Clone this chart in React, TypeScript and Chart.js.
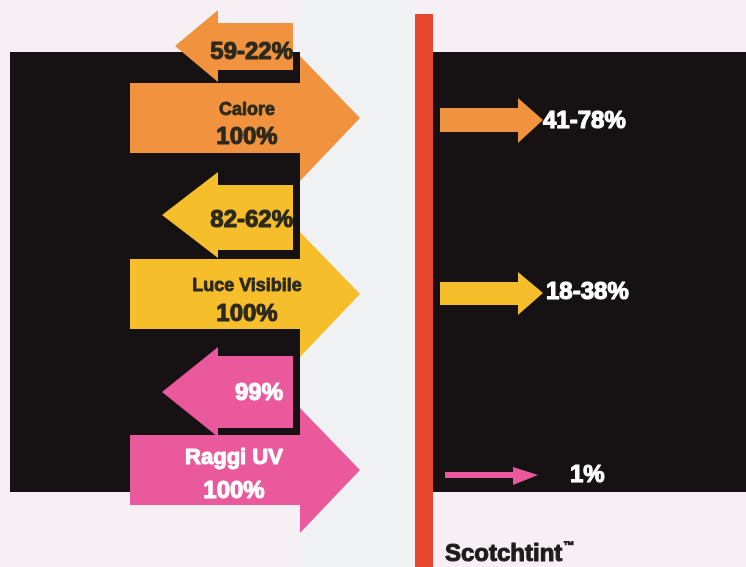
import React, { useEffect, useRef } from "react";
import { Chart, registerables } from "chart.js";

Chart.register(...registerables);

// ---------- data ----------
const categories = ["Calore", "Luce Visibile", "Raggi UV"];
const incidentValues = [100, 100, 100];
const incidentLabels = ["100%", "100%", "100%"];
const reflectedLabels = ["59-22%", "82-62%", "99%"];
const transmittedLabels = ["41-78%", "18-38%", "1%"];
const filmLabel = "Scotchtint";

// ---------- style / layout ----------
const W = 746;
const H = 567;
const ORIGIN_PX = 130; // pixel of value 0
const PX_PER_UNIT = 2.3; // incident arrow: 100% -> 230px
const ROW0_PX = 118;
const ROW_STEP_PX = 176;

const rowColors = ["#f0923e", "#f6be2a", "#e9599b"];
const rowTextColors = ["#2c2a1e", "#2c2a1e", "#ffffff"];
const FONT = "'Liberation Sans', Arial, sans-serif";

const reflectedShapes = [
  { bodyTop: -95, bodyBot: -48, headTop: -108, headBot: -36, tipY: -72, tipDx: 45 },
  { bodyTop: -109, bodyBot: -44, headTop: -122, headBot: -36, tipY: -79, tipDx: 32 },
  { bodyTop: -114, bodyBot: -42, headTop: -123, headBot: -33, tipY: -78, tipDx: 32 },
];
const transmittedShapes = [
  { start: 440, base: 518, tip: 543, bodyTop: -10, bodyBot: 14, headTop: -20, headBot: 25, tipY: 2 },
  { start: 440, base: 518, tip: 543, bodyTop: -12, bodyBot: 11, headTop: -22, headBot: 21, tipY: -1 },
  { start: 445, base: 513, tip: 538, bodyTop: 2, bodyBot: 8, headTop: -3, headBot: 15, tipY: 5 },
];
const incidentText = [
  { cx: 247, nameDy: -8, nameSize: 18, valDy: 19, valSize: 24 },
  { cx: 247, nameDy: -8, nameSize: 18, valDy: 20, valSize: 24 },
  { cx: 234, nameDy: -12, nameSize: 22, valDy: 21, valSize: 24 },
];
const reflectedText = [
  { right: 293, dy: -66 },
  { right: 293, dy: -74 },
  { right: 283, dy: -77 },
];
const transmittedText = [
  { left: 543, dy: 3 },
  { left: 546, dy: -2 },
  { left: 570, dy: 5 },
];

function poly(ctx: CanvasRenderingContext2D, pts: number[][], color: string) {
  ctx.beginPath();
  ctx.moveTo(pts[0][0], pts[0][1]);
  for (let i = 1; i < pts.length; i++) ctx.lineTo(pts[i][0], pts[i][1]);
  ctx.closePath();
  ctx.fillStyle = color;
  ctx.fill();
}

function text(
  ctx: CanvasRenderingContext2D,
  s: string,
  x: number,
  y: number,
  size: number,
  color: string,
  align: CanvasTextAlign
) {
  ctx.font = `bold ${size}px ${FONT}`;
  ctx.fillStyle = color;
  ctx.strokeStyle = color;
  ctx.lineWidth = size > 20 ? 1.1 : 0.8;
  ctx.lineJoin = "round";
  ctx.textAlign = align;
  ctx.textBaseline = "middle";
  ctx.fillText(s, x, y);
  ctx.strokeText(s, x, y);
}

const infographicPlugin = {
  id: "infographic",
  beforeDraw(chart: any) {
    const ctx: CanvasRenderingContext2D = chart.ctx;
    ctx.save();
    ctx.fillStyle = "#f6eff4";
    ctx.fillRect(0, 0, W, H);
    ctx.fillStyle = "#eff1f3";
    ctx.fillRect(300, 0, 115, H);
    // panels
    ctx.fillStyle = "#161213";
    ctx.fillRect(10, 52, 290, 440);
    ctx.fillRect(433, 52, W - 433, 440);
    // film line
    ctx.fillStyle = "#e4472d";
    ctx.fillRect(415, 14, 18, H - 14);
    ctx.restore();
  },
  afterDatasetsDraw(chart: any) {
    const ctx: CanvasRenderingContext2D = chart.ctx;
    const xs = chart.scales.x;
    const ys = chart.scales.y;
    ctx.save();
    categories.forEach((cat, i) => {
      const cy = ys.getPixelForValue(i);
      const x0 = xs.getPixelForValue(0);
      const tip = xs.getPixelForValue(incidentValues[i]);
      const base = tip - 60;
      const color = rowColors[i];
      // reflected arrow (points left)
      const r = reflectedShapes[i];
      const rRight = base - 7;
      const rBase = x0 + 88;
      const rTip = x0 + r.tipDx;
      poly(
        ctx,
        [
          [rRight, cy + r.bodyTop],
          [rBase, cy + r.bodyTop],
          [rBase, cy + r.headTop],
          [rTip, cy + r.tipY],
          [rBase, cy + r.headBot],
          [rBase, cy + r.bodyBot],
          [rRight, cy + r.bodyBot],
        ],
        color
      );
      // incident arrow
      poly(
        ctx,
        [
          [x0, cy - 35],
          [base, cy - 35],
          [base, cy - 62],
          [tip, cy],
          [base, cy + 63],
          [base, cy + 35],
          [x0, cy + 35],
        ],
        color
      );
      // transmitted arrow
      const t = transmittedShapes[i];
      poly(
        ctx,
        [
          [t.start, cy + t.bodyTop],
          [t.base, cy + t.bodyTop],
          [t.base, cy + t.headTop],
          [t.tip, cy + t.tipY],
          [t.base, cy + t.headBot],
          [t.base, cy + t.bodyBot],
          [t.start, cy + t.bodyBot],
        ],
        color
      );
      // texts
      const it = incidentText[i];
      text(ctx, cat, it.cx, cy + it.nameDy, it.nameSize, rowTextColors[i], "center");
      text(ctx, incidentLabels[i], it.cx, cy + it.valDy, it.valSize, rowTextColors[i], "center");
      const rt = reflectedText[i];
      text(ctx, reflectedLabels[i], rt.right, cy + rt.dy, 24, rowTextColors[i], "right");
      const tt = transmittedText[i];
      text(ctx, transmittedLabels[i], tt.left, cy + tt.dy, 24, "#ffffff", "left");
    });
    // film label
    text(ctx, filmLabel, 445, 554, 24, "#1e1c1c", "left");
    ctx.font = `bold 24px ${FONT}`;
    const w = ctx.measureText(filmLabel).width;
    text(ctx, "™", 446 + w, 546, 11, "#1e1c1c", "left");
    ctx.restore();
  },
};

export default function App() {
  const ref = useRef<HTMLCanvasElement | null>(null);
  useEffect(() => {
    if (!ref.current) return;
    const xMin = -ORIGIN_PX / PX_PER_UNIT;
    const xMax = (W - ORIGIN_PX) / PX_PER_UNIT;
    const yMin = -ROW0_PX / ROW_STEP_PX;
    const yMax = yMin + H / ROW_STEP_PX;
    const chart = new Chart(ref.current, {
      type: "scatter",
      data: {
        datasets: [
          {
            label: "Incidente",
            data: incidentValues.map((v, i) => ({ x: v, y: i })),
            pointRadius: 0,
            showLine: false,
          },
        ],
      },
      options: {
        responsive: false,
        animation: false,
        events: [],
        layout: { padding: 0 },
        plugins: { legend: { display: false }, tooltip: { enabled: false } },
        scales: {
          x: { type: "linear", min: xMin, max: xMax, display: false },
          y: { type: "linear", min: yMin, max: yMax, reverse: true, display: false },
        },
      },
      plugins: [infographicPlugin],
    });
    return () => chart.destroy();
  }, []);
  return (
    <div style={{ position: "fixed", left: 0, top: 0, width: W, height: H }}>
      <canvas ref={ref} width={W} height={H} style={{ width: W, height: H, display: "block" }} />
    </div>
  );
}
